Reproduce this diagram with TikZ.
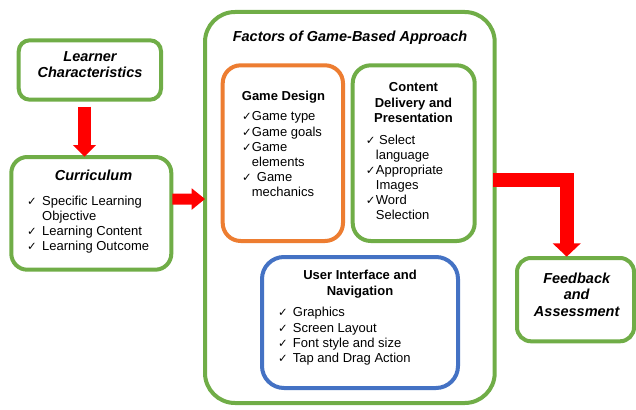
\documentclass[tikz,border=0pt]{standalone}
\usepackage{fontspec}
\setmainfont{Liberation Sans}
\newfontfamily\checkfont{DejaVu Sans}
\usetikzlibrary{calc,arrows.meta}

\definecolor{boxgreen}{HTML}{70AD47}
\definecolor{boxorange}{HTML}{ED7D31}
\definecolor{boxblue}{HTML}{4472C4}
\definecolor{arrowred}{HTML}{FF0000}

% tick mark followed by a fixed gap before the item text
\newcommand{\tick}{{\checkfont\fontsize{11.5}{11.5}\selectfont ✓}}
\newcommand{\ck}[1]{\makebox[#1][l]{\tick}}

\tikzset{
  panel/.style={draw=#1, line width=4pt, rectangle, inner sep=0pt, fill=white},
  title/.style={inner sep=0pt, anchor=base, font=\fontsize{14.5}{16}\selectfont\bfseries\itshape},
  head/.style={inner sep=0pt, anchor=base, font=\fontsize{13}{15}\selectfont\bfseries},
  item/.style={inner sep=0pt, anchor=base west, font=\fontsize{13}{15}\selectfont},
  blockarrow/.style={draw=arrowred, line width=#1, line join=miter},
}

\begin{document}
\begin{tikzpicture}[x=1pt, y=-1pt]
\useasboundingbox (0,0) rectangle (636,409);

% ---------- boxes ----------
\node[panel=boxgreen, rounded corners=11pt, minimum width=142.3pt, minimum height=59.4pt] (learner) at (89.85,70) {};
\node[panel=boxgreen, rounded corners=16pt, minimum width=160pt, minimum height=112.7pt] (curric) at (91.3,213.35) {};
\node[panel=boxgreen, rounded corners=30pt, minimum width=289.7pt, minimum height=391pt] (factors) at (349.85,207.5) {};
\node[panel=boxorange, rounded corners=18pt, minimum width=120.3pt, minimum height=175.7pt] (design) at (282.85,153.15) {};
\node[panel=boxgreen, rounded corners=18pt, minimum width=122pt, minimum height=175.7pt] (content) at (413.7,153.15) {};
\node[panel=boxblue, rounded corners=22pt, minimum width=196pt, minimum height=131pt] (ui) at (360,322.5) {};
\node[panel=boxgreen, rounded corners=14pt, minimum width=117pt, minimum height=83.3pt] (feedback) at (575.5,299.65) {};

% ---------- texts ----------
\node[title] (lc1) at (90,61.7) {Learner};
\node[title] (lc2) at (90,77.7) {Characteristics};

\node[title] (cu0) at (93.5,180.7) {Curriculum};
\node[item] (cu1) at (27,205) {\ck{15pt}Specific Learning};
\node[item] (cu2) at (42,220) {Objective};
\node[item] (cu3) at (27,235) {\ck{15pt}Learning Content};
\node[item] (cu4) at (27,250) {\ck{15pt}Learning Outcome};

\node[title] (fa0) at (350,41.7) {Factors of Game-Based Approach};

\node[head, anchor=base west] (gd0) at (241.7,100) {Game Design};
\node[item] (gd1) at (242,120.7) {\ck{9.7pt}Game type};
\node[item] (gd2) at (242,136) {\ck{9.7pt}Game goals};
\node[item] (gd3) at (242,151.5) {\ck{9.7pt}Game};
\node[item] (gd4) at (251.7,166.7) {elements};
\node[item] (gd5) at (242,181.7) {\ck{14.7pt}Game};
\node[item] (gd6) at (251.7,196.7) {mechanics};

\node[head] (cd1) at (413.5,91.7) {Content};
\node[head] (cd2) at (413.5,107.3) {Delivery and};
\node[head] (cd3) at (413.5,122.7) {Presentation};
\node[item] (cd4) at (365.7,144) {\ck{13.3pt}Select};
\node[item] (cd5) at (375.7,159) {language};
\node[item] (cd6) at (365.7,174) {\ck{10pt}Appropriate};
\node[item] (cd7) at (375.7,189) {Images};
\node[item] (cd8) at (365.7,204) {\ck{10pt}Word};
\node[item] (cd9) at (375.7,219) {Selection};

\node[head] (ui1) at (360,279.3) {User Interface and};
\node[head] (ui2) at (360,295) {Navigation};
\node[item] (ui3) at (278,316.7) {\ck{14.7pt}Graphics};
\node[item] (ui4) at (278,332) {\ck{14.7pt}Screen Layout};
\node[item] (ui5) at (278,347) {\ck{14.7pt}Font style and size};
\node[item] (ui6) at (278,362.5) {\ck{14.7pt}Tap and Drag Action};

\node[title] (fb1) at (576.7,283.3) {Feedback};
\node[title] (fb2) at (576.7,299.3) {and};
\node[title] (fb3) at (576.7,316.7) {Assessment};

% ---------- block arrows ----------
\draw[blockarrow=12.4pt, -{Triangle[width=22.7pt, length=11.7pt, fill=arrowred]}]
  ($(learner.south)+(-5.35,5)$) -- ($(curric.north)+(-6.8,1.7)$);
\draw[blockarrow=11pt, -{Triangle[width=20.6pt, length=13.3pt, fill=arrowred]}]
  ($(curric.east)+(-1,-14.3)$) -- ($(factors.west)+(2,-8.5)$);
\draw[blockarrow=14pt, -{Triangle[width=27.4pt, length=13.4pt, fill=arrowred]}]
  ($(factors.east)+(-3.7,-27.8)$) -| ($(feedback.north)+(-8.8,0.7)$);
\end{tikzpicture}
\end{document}
